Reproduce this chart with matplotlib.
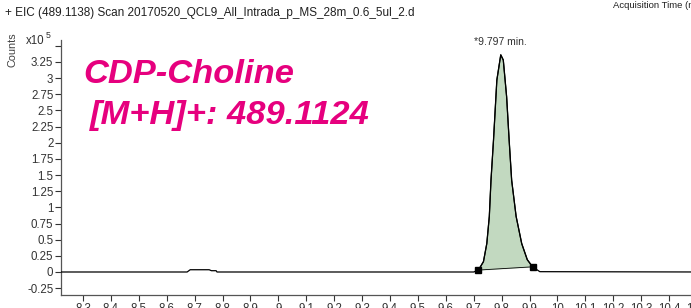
import matplotlib
matplotlib.use('Agg')
import matplotlib.pyplot as plt

plt.rcParams['font.family'] = ['Liberation Sans', 'DejaVu Sans']

# chromatogram trace (time in min, counts in 1e5)
trace_x = [8.22, 8.673, 8.684, 8.752, 8.760, 8.777, 8.780, 9.70, 9.717, 9.735, 9.747,
           9.756, 9.762, 9.771, 9.783, 9.797, 9.806, 9.818, 9.827, 9.836, 9.852,
           9.872, 9.892, 9.911, 9.937, 10.52]
trace_y = [0.0, 0.0, 0.035, 0.035, 0.02, 0.02, 0.0, 0.0, 0.03, 0.16, 0.44,
           0.86, 1.42, 2.04, 2.97, 3.36, 3.28, 2.71, 2.04, 1.42, 0.86,
           0.44, 0.19, 0.08, 0.005, 0.0]

# integration baseline end points
base_x = [9.717, 9.911]
base_y = [0.03, 0.08]

peak_rt = 9.797
peak_h = 3.36

ytick_vals = [-0.25, 0, 0.25, 0.5, 0.75, 1, 1.25, 1.5, 1.75, 2, 2.25, 2.5, 2.75, 3, 3.25, 3.5]
ytick_labels = ['-0.25', '0', '0.25', '0.5', '0.75', '1', '1.25', '1.5', '1.75', '2',
                '2.25', '2.5', '2.75', '3', '3.25', '']
xtick_vals = [8.3, 8.4, 8.5, 8.6, 8.7, 8.8, 8.9, 9.0, 9.1, 9.2, 9.3, 9.4, 9.5, 9.6,
              9.7, 9.8, 9.9, 10.0, 10.1, 10.2, 10.3, 10.4, 10.5]
xtick_labels = ['8.3', '8.4', '8.5', '8.6', '8.7', '8.8', '8.9', '9', '9.1', '9.2', '9.3',
                '9.4', '9.5', '9.6', '9.7', '9.8', '9.9', '10', '10.1', '10.2', '10.3',
                '10.4', '10.5']

fig = plt.figure(figsize=(6.91, 3.08), dpi=100)
ax = fig.add_axes([61 / 691, 13 / 308, 639 / 691, 255 / 308])

# shaded integrated peak
px = [x for x in trace_x if base_x[0] <= x <= base_x[1]]
py = [y for x, y in zip(trace_x, trace_y) if base_x[0] <= x <= base_x[1]]
ax.fill(px, py, color='#c2d9c0', zorder=1)
ax.plot(px, py, color='black', lw=0.8, zorder=2)
ax.plot(trace_x, trace_y, color='black', lw=0.9, zorder=3)
ax.plot(base_x, base_y, color='black', lw=0.6, zorder=3)
ax.plot(base_x, base_y, 's', color='black', ms=5, zorder=4)

ax.annotate('*9.797 min.', xy=(peak_rt, peak_h), xytext=(0, 6), textcoords='offset points',
            ha='center', va='bottom', fontsize=7.5, color='#303030')

ax.set_xlim(8.221, 10.511)
ax.set_ylim(-0.356, 3.59)
ax.set_xticks(xtick_vals)
ax.set_xticklabels(xtick_labels)
ax.set_yticks(ytick_vals)
ax.set_yticklabels(ytick_labels)
ax.tick_params(labelsize=8.3, length=4, width=0.8, colors='#333333', pad=1.5)
for s in ['top', 'right']:
    ax.spines[s].set_visible(False)
for s in ['left', 'bottom']:
    ax.spines[s].set_color('#555555')
    ax.spines[s].set_linewidth(0.9)

fig.text(5 / 691, 1 - 13 / 308, '+ EIC (489.1138) Scan 20170520_QCL9_All_Intrada_p_MS_28m_0.6_5ul_2.d',
         fontsize=8.5, va='center', ha='left', color='#202020')
fig.text(613 / 691, 1 - 6 / 308, 'Acquisition Time (min)', fontsize=6.8, va='center', ha='left',
         color='#202020')
fig.text(12 / 691, 1 - 50 / 308, 'Counts', rotation=90, fontsize=7.8, va='center', ha='center',
         color='#404040')
fig.text(26 / 691, 1 - 41 / 308, 'x10', fontsize=8.3, va='center', ha='left', color='#303030')
fig.text(46 / 691, 1 - 36 / 308, '5', fontsize=6.3, va='center', ha='left', color='#303030')

fig.text(83 / 691, 1 - 83 / 308, 'CDP-Choline', fontsize=24.8, fontweight='bold', style='italic',
         color='#e6007e', ha='left', va='baseline')
fig.text(90 / 691, 1 - 124 / 308, '[M+H]+: 489.1124', fontsize=24.8, fontweight='bold', style='italic',
         color='#e6007e', ha='left', va='baseline')

fig.savefig('out.png', dpi=100)
